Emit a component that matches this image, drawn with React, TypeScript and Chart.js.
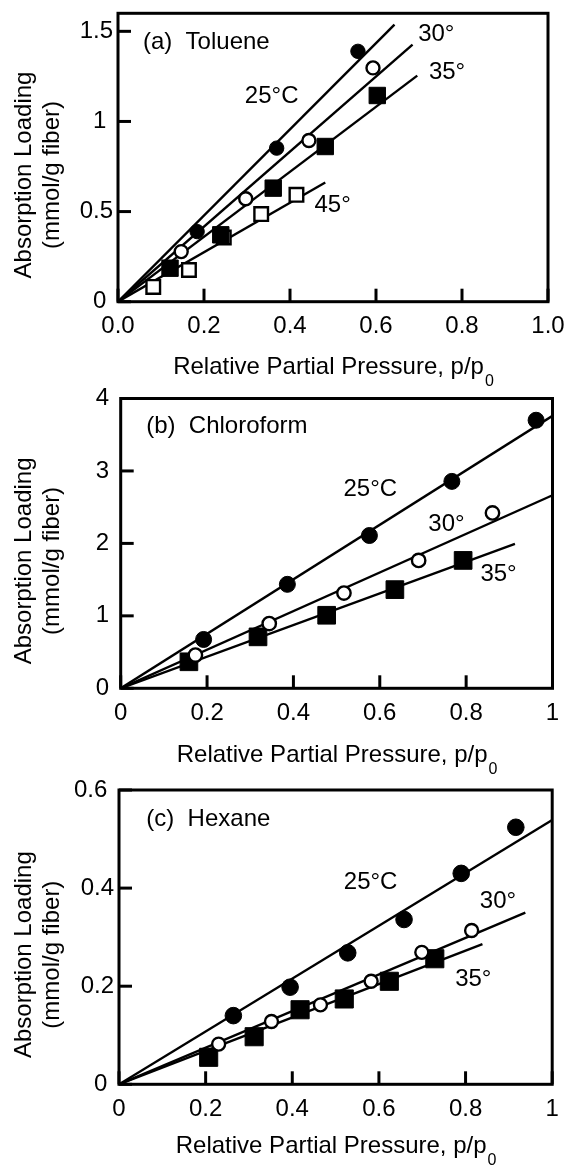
import React, { useEffect, useRef } from 'react';
import { Chart, registerables } from 'chart.js';

Chart.register(...registerables);

const FONT = '"Liberation Sans", Arial, Helvetica, sans-serif';

// ---------------- Panel (a) Toluene ----------------
const tolueneX25 = [0.184, 0.369, 0.558];
const tolueneY25 = [0.389, 0.852, 1.389];
const tolueneX30 = [0.147, 0.297, 0.444, 0.593];
const tolueneY30 = [0.278, 0.571, 0.894, 1.297];
const tolueneX35 = [0.121, 0.239, 0.361, 0.482, 0.603];
const tolueneY35 = [0.186, 0.371, 0.63, 0.861, 1.144];
const tolueneX45 = [0.082, 0.165, 0.246, 0.333, 0.415];
const tolueneY45 = [0.082, 0.176, 0.356, 0.486, 0.593];
const tolueneFitEndX = [0.643, 0.685, 0.696, 0.482];
const tolueneFitEndY = [1.537, 1.426, 1.254, 0.661];
const tolueneXTicks = [0, 0.2, 0.4, 0.6, 0.8, 1.0];
const tolueneXTickLabels = ['0.0', '0.2', '0.4', '0.6', '0.8', '1.0'];
const tolueneYTicks = [0, 0.5, 1, 1.5];
const tolueneYTickLabels = ['0 ', '0.5', '1 ', '1.5'];
const tolueneLabelTexts = ['(a)  Toluene', '25°C', '30°', '35°', '45°'];
const tolueneLabelX = [0.058, 0.295, 0.698, 0.723, 0.457];
const tolueneLabelY = [1.439, 1.139, 1.482, 1.272, 0.532];

// ---------------- Panel (b) Chloroform ----------------
const chloroX25 = [0.192, 0.386, 0.576, 0.767, 0.962];
const chloroY25 = [0.674, 1.435, 2.109, 2.856, 3.7];
const chloroX30 = [0.173, 0.344, 0.517, 0.69, 0.861];
const chloroY30 = [0.458, 0.894, 1.315, 1.765, 2.42];
const chloroX35 = [0.158, 0.318, 0.477, 0.635, 0.793];
const chloroY35 = [0.366, 0.71, 1.008, 1.362, 1.765];
const chloroFitEndX = [1.0, 1.0, 0.913];
const chloroFitEndY = [3.76, 2.665, 1.995];
const chloroXTicks = [0, 0.2, 0.4, 0.6, 0.8, 1.0];
const chloroXTickLabels = ['0', '0.2', '0.4', '0.6', '0.8', '1'];
const chloroYTicks = [0, 1, 2, 3, 4];
const chloroYTickLabels = ['0 ', '1 ', '2 ', '3 ', '4 '];
const chloroLabelTexts = ['(b)  Chloroform', '25°C', '30°', '35°'];
const chloroLabelX = [0.059, 0.516, 0.7125, 0.833];
const chloroLabelY = [3.62, 2.75, 2.26, 1.572];

// ---------------- Panel (c) Hexane ----------------
const hexaneX25 = [0.264, 0.395, 0.528, 0.658, 0.79, 0.916];
const hexaneY25 = [0.14, 0.198, 0.268, 0.336, 0.43, 0.524];
const hexaneX30 = [0.23, 0.352, 0.465, 0.582, 0.699, 0.814];
const hexaneY30 = [0.082, 0.128, 0.162, 0.21, 0.269, 0.3135];
const hexaneX35 = [0.207, 0.312, 0.418, 0.52, 0.624, 0.729];
const hexaneY35 = [0.055, 0.097, 0.152, 0.174, 0.21, 0.256];
const hexaneFitEndX = [1.0, 0.938, 0.839];
const hexaneFitEndY = [0.539, 0.35, 0.286];
const hexaneXTicks = [0, 0.2, 0.4, 0.6, 0.8, 1.0];
const hexaneXTickLabels = ['0', '0.2', '0.4', '0.6', '0.8', '1'];
const hexaneYTicks = [0, 0.2, 0.4, 0.6];
const hexaneYTickLabels = ['0 ', '0.2', '0.4', '0.6 '];
const hexaneLabelTexts = ['(c)  Hexane', '25°C', '30°', '35°'];
const hexaneLabelX = [0.063, 0.519, 0.833, 0.776];
const hexaneLabelY = [0.5405, 0.4117, 0.3734, 0.2133];

type MarkerStyle = 'circleFilled' | 'circleOpen' | 'squareFilled' | 'squareOpen';

interface SeriesDef {
  xs: number[];
  ys: number[];
  style: MarkerStyle;
}

interface PanelDef {
  top: number;
  height: number;
  area: { left: number; right: number; top: number; bottom: number };
  yMax: number;
  xTicks: number[];
  xTickLabels: string[];
  yTicks: number[];
  yTickLabels: string[];
  series: SeriesDef[];
  fitEndX: number[];
  fitEndY: number[];
  labelTexts: string[];
  labelX: number[];
  labelY: number[];
  xLabelPad: number;
  xTitleOffset: number;
  sizes: Record<MarkerStyle, number>;
}

const panels: PanelDef[] = [
  {
    top: 0,
    height: 400,
    area: { left: 118, right: 548, top: 13.3, bottom: 301.7 },
    yMax: 1.6,
    xTicks: tolueneXTicks,
    xTickLabels: tolueneXTickLabels,
    yTicks: tolueneYTicks,
    yTickLabels: tolueneYTickLabels,
    series: [
      { xs: tolueneX25, ys: tolueneY25, style: 'circleFilled' },
      { xs: tolueneX30, ys: tolueneY30, style: 'circleOpen' },
      { xs: tolueneX35, ys: tolueneY35, style: 'squareFilled' },
      { xs: tolueneX45, ys: tolueneY45, style: 'squareOpen' },
    ],
    fitEndX: tolueneFitEndX,
    fitEndY: tolueneFitEndY,
    labelTexts: tolueneLabelTexts,
    labelX: tolueneLabelX,
    labelY: tolueneLabelY,
    xLabelPad: 10,
    xTitleOffset: 66,
    sizes: { circleFilled: 7.2, circleOpen: 6.5, squareFilled: 11.6, squareOpen: 9.6 },
  },
  {
    top: 385,
    height: 400,
    area: { left: 120.7, right: 559, top: 11.7, bottom: 303.3 },
    yMax: 4,
    xTicks: chloroXTicks,
    xTickLabels: chloroXTickLabels,
    yTicks: chloroYTicks,
    yTickLabels: chloroYTickLabels,
    series: [
      { xs: chloroX25, ys: chloroY25, style: 'circleFilled' },
      { xs: chloroX30, ys: chloroY30, style: 'circleOpen' },
      { xs: chloroX35, ys: chloroY35, style: 'squareFilled' },
    ],
    fitEndX: chloroFitEndX,
    fitEndY: chloroFitEndY,
    labelTexts: chloroLabelTexts,
    labelX: chloroLabelX,
    labelY: chloroLabelY,
    xLabelPad: 11,
    xTitleOffset: 67,
    sizes: { circleFilled: 8, circleOpen: 6.7, squareFilled: 12.5, squareOpen: 9.6 },
  },
  {
    top: 775,
    height: 396,
    area: { left: 119, right: 558, top: 15, bottom: 309.3 },
    yMax: 0.6,
    xTicks: hexaneXTicks,
    xTickLabels: hexaneXTickLabels,
    yTicks: hexaneYTicks,
    yTickLabels: hexaneYTickLabels,
    series: [
      { xs: hexaneX25, ys: hexaneY25, style: 'circleFilled' },
      { xs: hexaneX30, ys: hexaneY30, style: 'circleOpen' },
      { xs: hexaneX35, ys: hexaneY35, style: 'squareFilled' },
    ],
    fitEndX: hexaneFitEndX,
    fitEndY: hexaneFitEndY,
    labelTexts: hexaneLabelTexts,
    labelX: hexaneLabelX,
    labelY: hexaneLabelY,
    xLabelPad: 11,
    xTitleOffset: 62,
    sizes: { circleFilled: 8.3, circleOpen: 6.5, squareFilled: 12.8, squareOpen: 9.6 },
  },
];

const X_AXIS_H = 50;

function markerDataset(s: SeriesDef, p: PanelDef) {
  const filled = s.style === 'circleFilled' || s.style === 'squareFilled';
  const isCircle = s.style === 'circleFilled' || s.style === 'circleOpen';
  const r = p.sizes[s.style];
  return {
    type: 'scatter' as const,
    data: s.xs.map((x, i) => ({ x, y: s.ys[i] })),
    showLine: false,
    pointStyle: isCircle ? 'circle' : 'rect',
    pointRadius: r,
    pointHoverRadius: r,
    pointBackgroundColor: filled ? '#000' : '#fff',
    pointBorderColor: '#000',
    pointBorderWidth: filled ? 1 : 2.4,
    order: 0,
  };
}

function makeDecor(p: PanelDef) {
  return {
    id: 'decor',
    afterDatasetsDraw(chart: any) {
      const { ctx, chartArea: a, scales } = chart;
      const xs = scales.x;
      const ys = scales.y;
      ctx.save();
      ctx.strokeStyle = '#000';
      ctx.lineWidth = 3;
      ctx.lineCap = 'butt';
      ctx.strokeRect(a.left, a.top, a.right - a.left, a.bottom - a.top);
      // inward ticks
      ys.ticks.forEach((t: any) => {
        const py = ys.getPixelForValue(t.value);
        ctx.beginPath();
        ctx.moveTo(a.left, py);
        ctx.lineTo(a.left + 13, py);
        ctx.stroke();
      });
      xs.ticks.forEach((t: any) => {
        const px = xs.getPixelForValue(t.value);
        ctx.beginPath();
        ctx.moveTo(px, a.bottom);
        ctx.lineTo(px, a.bottom - 13);
        ctx.stroke();
      });
      // annotations
      ctx.fillStyle = '#000';
      ctx.font = `24px ${FONT}`;
      ctx.textBaseline = 'middle';
      ctx.textAlign = 'left';
      p.labelTexts.forEach((s, i) => {
        ctx.fillText(s, xs.getPixelForValue(p.labelX[i]), ys.getPixelForValue(p.labelY[i]));
      });
      // y title (two lines, rotated)
      const cy = (a.top + a.bottom) / 2 + 17.5;
      ctx.textAlign = 'center';
      ctx.save();
      ctx.translate(24.5, cy);
      ctx.rotate(-Math.PI / 2);
      ctx.fillText('Absorption Loading', 0, 0);
      ctx.restore();
      ctx.save();
      ctx.translate(52, cy);
      ctx.rotate(-Math.PI / 2);
      ctx.fillText('(mmol/g fiber)', 0, 0);
      ctx.restore();
      // x title with subscript
      const main = 'Relative Partial Pressure, p/p';
      ctx.font = `24px ${FONT}`;
      const w1 = ctx.measureText(main).width;
      ctx.font = `16px ${FONT}`;
      const w2 = ctx.measureText('0').width;
      const cx = (a.left + a.right) / 2;
      const startX = cx - (w1 + w2) / 2;
      const ty = a.bottom + p.xTitleOffset;
      ctx.textAlign = 'left';
      ctx.font = `24px ${FONT}`;
      ctx.fillText(main, startX, ty);
      ctx.font = `16px ${FONT}`;
      ctx.fillText('0', startX + w1 + 1, ty + 14);
      ctx.restore();
    },
  };
}

function buildConfig(p: PanelDef): any {
  const datasets: any[] = p.series.map((s) => markerDataset(s, p));
  p.fitEndX.forEach((ex, i) => {
    datasets.push({
      type: 'scatter',
      data: [
        { x: 0, y: 0 },
        { x: ex, y: p.fitEndY[i] },
      ],
      showLine: true,
      borderColor: '#000',
      borderWidth: 2.4,
      pointRadius: 0,
      pointHoverRadius: 0,
      fill: false,
      order: 1,
    });
  });
  const tickFont = { family: FONT, size: 24 };
  return {
    type: 'scatter',
    data: { datasets },
    options: {
      animation: false,
      responsive: false,
      maintainAspectRatio: false,
      events: [],
      layout: {
        padding: {
          left: 0,
          right: 566 - p.area.right,
          top: p.area.top,
          bottom: p.height - p.area.bottom - X_AXIS_H,
        },
      },
      plugins: {
        legend: { display: false },
        tooltip: { enabled: false },
        title: { display: false },
      },
      scales: {
        x: {
          type: 'linear',
          min: 0,
          max: 1,
          grid: { display: false, drawTicks: false },
          border: { display: false },
          afterBuildTicks: (axis: any) => {
            axis.ticks = p.xTicks.map((v) => ({ value: v }));
          },
          afterFit: (axis: any) => {
            axis.height = X_AXIS_H;
            axis.paddingLeft = 0;
            axis.paddingRight = 0;
            axis.paddingTop = 0;
            axis.paddingBottom = 0;
          },
          ticks: {
            color: '#000',
            font: tickFont,
            padding: p.xLabelPad,
            maxRotation: 0,
            minRotation: 0,
            autoSkip: false,
            callback: (_v: any, i: number) => p.xTickLabels[i],
          },
        },
        y: {
          type: 'linear',
          min: 0,
          max: p.yMax,
          grid: { display: false, drawTicks: false },
          border: { display: false },
          afterBuildTicks: (axis: any) => {
            axis.ticks = p.yTicks.map((v) => ({ value: v }));
          },
          afterFit: (axis: any) => {
            axis.width = p.area.left;
            axis.paddingLeft = 0;
            axis.paddingRight = 0;
            axis.paddingTop = 0;
            axis.paddingBottom = 0;
          },
          ticks: {
            color: '#000',
            font: tickFont,
            padding: 5,
            autoSkip: false,
            callback: (_v: any, i: number) => p.yTickLabels[i],
          },
        },
      },
    },
    plugins: [makeDecor(p)],
  };
}

function Panel({ panel }: { panel: PanelDef }) {
  const ref = useRef<HTMLCanvasElement | null>(null);
  useEffect(() => {
    if (!ref.current) return;
    const chart = new Chart(ref.current, buildConfig(panel));
    return () => chart.destroy();
  }, [panel]);
  return (
    <canvas
      ref={ref}
      width={566}
      height={panel.height}
      style={{ position: 'absolute', left: 0, top: panel.top, width: 566, height: panel.height }}
    />
  );
}

export default function App() {
  return (
    <div
      style={{
        position: 'absolute',
        left: 0,
        top: 0,
        width: 566,
        height: 1171,
        background: '#fff',
        overflow: 'hidden',
      }}
    >
      {panels.map((p, i) => (
        <Panel key={i} panel={p} />
      ))}
    </div>
  );
}
